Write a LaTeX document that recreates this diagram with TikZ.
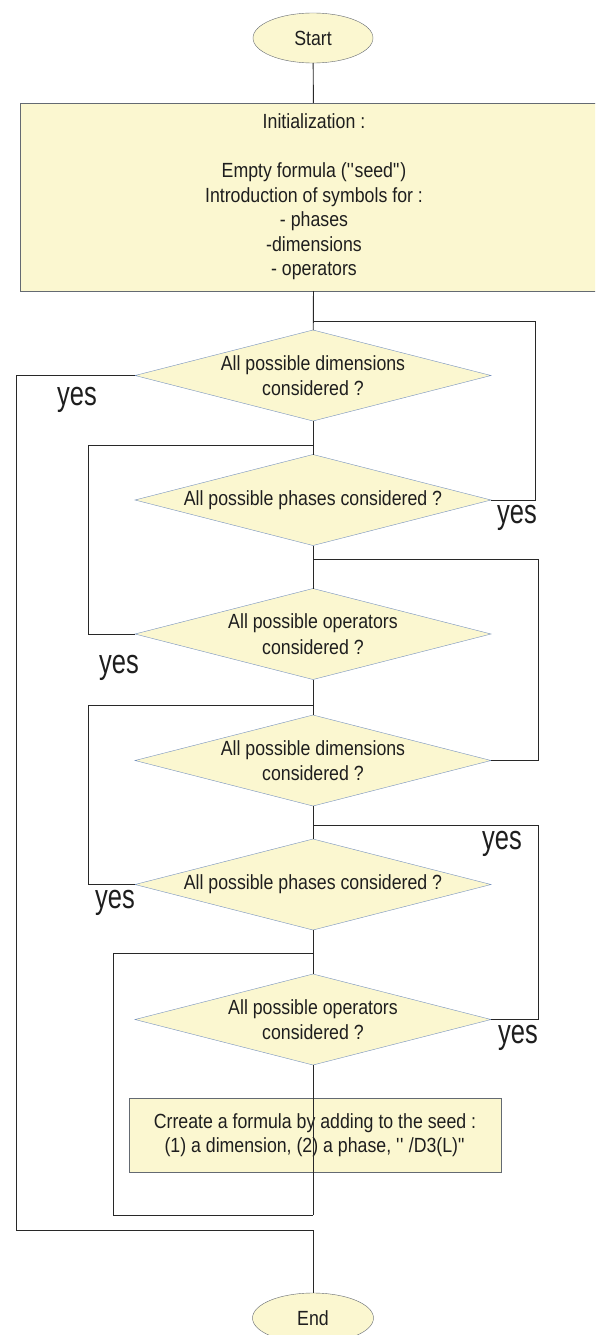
\documentclass[tikz,border=0pt]{standalone}
\usepackage{fontspec}
\setmainfont{Liberation Sans}[FakeStretch=0.865]
\newfontfamily\yesfont{Liberation Sans}[FakeStretch=0.75]
\usetikzlibrary{shapes.geometric}
\definecolor{fillY}{RGB}{251,247,208}
\definecolor{dborder}{RGB}{118,146,190}
\definecolor{bborder}{RGB}{100,106,114}
\definecolor{linec}{RGB}{40,40,40}
\definecolor{textc}{RGB}{30,30,30}
\tikzset{
  basefont/.style={font=\fontsize{20.5}{24.5}\selectfont, text=textc},
  term/.style={ellipse, draw=bborder, fill=fillY, minimum width=120pt, minimum height=50pt, inner sep=0pt, outer sep=0pt, basefont},
  procbox/.style={rectangle, draw=bborder, fill=fillY, align=center, inner sep=0pt, outer sep=0pt, basefont},
  dec/.style={diamond, draw=dborder, fill=fillY, minimum width=356pt, minimum height=91pt, inner sep=0pt, outer sep=0pt},
  dtext/.style={align=center, inner sep=0pt, basefont, font=\fontsize{20.5}{25.5}\selectfont},
  conn/.style={draw=linec, line width=0.9pt},
  yeslab/.style={font=\yesfont\fontsize{34}{34}\selectfont, text=textc, anchor=base, inner sep=0pt},
}
\begin{document}
\begin{tikzpicture}[x=1pt,y=-1pt]
\useasboundingbox (0,0) rectangle (595,1335);
\clip (0,0) rectangle (595,1335);
\fill[white] (0,0) rectangle (595,1335);

% nodes
\node[term] (start) at (313,38) {Start};
\node[procbox, minimum width=588pt, minimum height=188pt] (init) at (314,197)
  {Initialization :\\[24.5pt]Empty formula (\textquotesingle\textquotesingle seed\textquotedbl)\\Introduction of symbols for :\\- phases\\-dimensions\\- operators};
\node[dec, label={[dtext]center:{All possible dimensions\\considered ?}}] (d1) at (313,375.5) {};
\node[dec, label={[dtext]center:{All possible phases considered ?}}] (d2) at (313,500) {};
\node[dec, label={[dtext]center:{All possible operators\\considered ?}}] (d3) at (313,634) {};
\node[dec, label={[dtext]center:{All possible dimensions\\considered ?}}] (d4) at (313,760.5) {};
\node[dec, label={[dtext]center:{All possible phases considered ?}}] (d5) at (313,884.5) {};
\node[dec, label={[dtext]center:{All possible operators\\considered ?}}] (d6) at (313,1019.5) {};
\node[procbox, minimum width=372pt, minimum height=74pt] (cb) at (315,1135)
  {Crreate a formula by adding to the seed :\\(1) a dimension, (2) a phase, \textquotesingle\textquotesingle{} /D3(L)\textquotedbl};
\node[term, minimum width=121pt] (end) at (313,1318) {End};

% junction points
\coordinate (j1) at (313,321);
\coordinate (j2) at (313,445);
\coordinate (j3) at (313,559);
\coordinate (j4) at (313,705);
\coordinate (j5) at (313,825);
\coordinate (j6) at (313,953);
\coordinate (j7) at (313,1215);
\coordinate (j8) at (313,1230);

% connectors
\draw[conn] (start) -- (init);
\draw[conn] (init) -- (d1);
\draw[conn] (d1) -- (d2);
\draw[conn] (d2) -- (d3);
\draw[conn] (d3) -- (d4);
\draw[conn] (d4) -- (d5);
\draw[conn] (d5) -- (d6);
\draw[conn] (d6.south) -- (j7);
\draw[conn] (d2.east) -- ++(44,0) |- (j1);
\draw[conn] (d3.west) -- ++(-47,0) |- (j2);
\draw[conn] (d4.east) -- ++(47,0) |- (j3);
\draw[conn] (d5.west) -- ++(-47,0) |- (j4);
\draw[conn] (d6.east) -- ++(47,0) |- (j5);
\draw[conn] (j7) -- ++(-200,0) |- (j6);
\draw[conn] (d1.west) -- ++(-119,0) |- (j8);
\draw[conn] (j8) -- (end);

% yes labels
\node[yeslab] (y1) at (77,405) {yes};
\node[yeslab] (y2) at (517,523) {yes};
\node[yeslab] (y3) at (119,673) {yes};
\node[yeslab] (y4) at (502,849) {yes};
\node[yeslab] (y5) at (115,908) {yes};
\node[yeslab] (y6) at (518,1043) {yes};
\end{tikzpicture}
\end{document}
